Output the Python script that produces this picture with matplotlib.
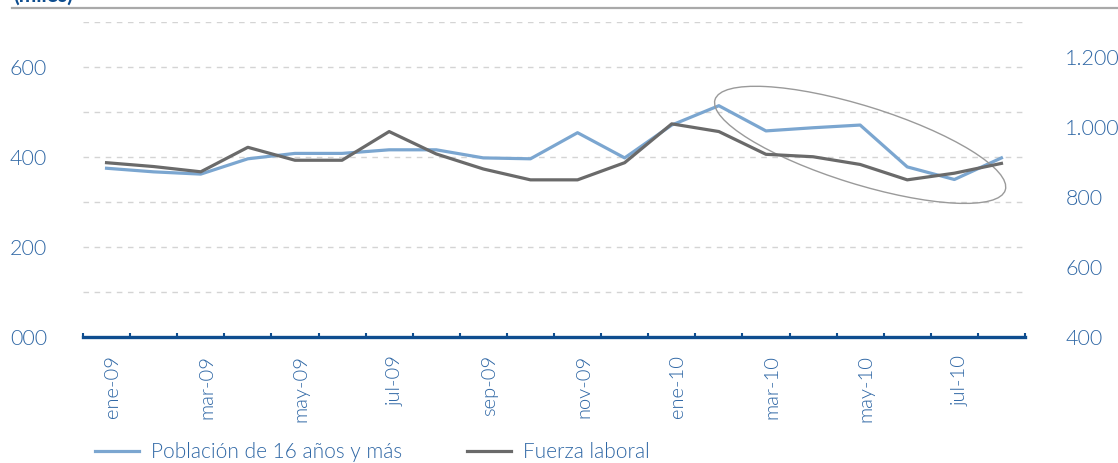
import matplotlib
matplotlib.use("Agg")
import matplotlib.pyplot as plt
from matplotlib.patches import Ellipse
from matplotlib.lines import Line2D
from matplotlib.transforms import ScaledTranslation, offset_copy

# ---- data ----
months = ["ene-09", "feb-09", "mar-09", "abr-09", "may-09", "jun-09", "jul-09",
          "ago-09", "sep-09", "oct-09", "nov-09", "dic-09", "ene-10", "feb-10",
          "mar-10", "abr-10", "may-10", "jun-10", "jul-10", "ago-10"]
poblacion = [375, 367, 362, 396, 408, 408, 416, 416, 398, 396,
             454, 398, 471, 514, 458, 465, 471, 378, 350, 398]
fuerza = [898, 887, 872, 942, 905, 905, 987, 923, 880, 849,
          849, 898, 1009, 987, 922, 915, 893, 849, 868, 896]
left_ticks = [0, 200, 400, 600]
left_labels = ["000", "200", "400", "600"]
right_ticks = [400, 600, 800, 1000, 1200]
right_labels = ["400", "600", "800", "1.000", "1.200"]

BLUE = "#7ba6d0"
GRAY = "#6a6a6a"
AXBLUE = "#0e4d8f"
TXT = "#2f67a5"
FW = 300

plt.rcParams['font.family'] = ['Lato', 'DejaVu Sans']

W, H = 1118, 463
fig = plt.figure(figsize=(W / 100, H / 100), dpi=100)
ax = fig.add_axes([83 / W, (H - 337) / H, (1025 - 83) / W, (337 - 22) / H])
ax2 = ax.twinx()

x = list(range(len(months)))
ax.plot(x, poblacion, color=BLUE, lw=2.3, zorder=3)
ax2.plot(x, fuerza, color=GRAY, lw=2.3, zorder=3)

ax.set_xlim(-0.5, len(months) - 0.5)
ax.set_ylim(0, 700)
ax2.set_ylim(400, 1300)

for a in (ax, ax2):
    for s in ("top", "left", "right", "bottom"):
        a.spines[s].set_visible(False)
ax.spines["bottom"].set_visible(True)
ax.spines["bottom"].set_color(AXBLUE)
ax.spines["bottom"].set_linewidth(2.4)
ax.spines["bottom"].set_zorder(5)

# x ticks: boundaries as major, labels as minor
ax.set_xticks([i - 0.5 for i in range(len(months) + 1)])
ax.set_xticklabels([])
ax.tick_params(axis="x", which="major", direction="in", length=3, width=1.5,
               color=AXBLUE)
ax.set_xticks(x[::2], minor=True)
ax.set_xticklabels(months[::2], minor=True, rotation=90, fontsize=14.5,
                   color=TXT, fontweight=FW)
ax.tick_params(axis="x", which="minor", length=0, pad=13)
for lab in ax.get_xticklabels(minor=True):
    lab.set_transform(offset_copy(lab.get_transform(), fig=fig, x=6, y=0,
                                  units="dots"))

# left axis
ax.set_yticks(left_ticks)
ax.set_yticklabels(left_labels, fontsize=15.5, color=TXT, fontweight=FW)
ax.set_yticks([100, 300, 500, 700], minor=True)
ax.tick_params(axis="y", which="both", length=0, pad=26)
ax.grid(axis="y", which="both", color="#d4d4d4", lw=1.0, ls=(0, (4, 4)))
ax.set_axisbelow(True)

# right axis
ax2.set_yticks(right_ticks)
ax2.set_yticklabels(right_labels, fontsize=15.5, color=TXT, fontweight=FW)
ax2.tick_params(axis="y", length=0, pad=29)

# highlight ellipse
tr = fig.dpi_scale_trans + ScaledTranslation(16.0, 427, ax.transData)
ell = Ellipse((0, 0), 3.04, 0.78, angle=-17.3, fill=False, edgecolor="#9a9a9a",
              lw=1.0, transform=tr, zorder=6)
ax.add_artist(ell)

# top rule and cut-off unit label
fig.add_artist(Line2D([12 / W, 1.0], [1 - 8 / H, 1 - 8 / H], color="#a9a9a9",
                      lw=1.6))
fig.text(13 / W, 1 - 1.5 / H, "(miles)", color=AXBLUE, fontsize=15,
         fontweight="bold", va="baseline", ha="left")

# legend
handles = [Line2D([], [], color=BLUE, lw=2.3), Line2D([], [], color=GRAY, lw=2.3)]
leg = fig.legend(handles, ["Población de 16 años y más", "Fuerza laboral"],
                 loc="center left", bbox_to_anchor=(95 / W, (H - 452) / H),
                 ncol=2, frameon=False, fontsize=15, handlelength=2.1,
                 handletextpad=0.6, columnspacing=3.1, borderpad=0,
                 borderaxespad=0)
for t in leg.get_texts():
    t.set_color(TXT)
    t.set_fontweight(FW)

fig.savefig("out.png", dpi=100)
